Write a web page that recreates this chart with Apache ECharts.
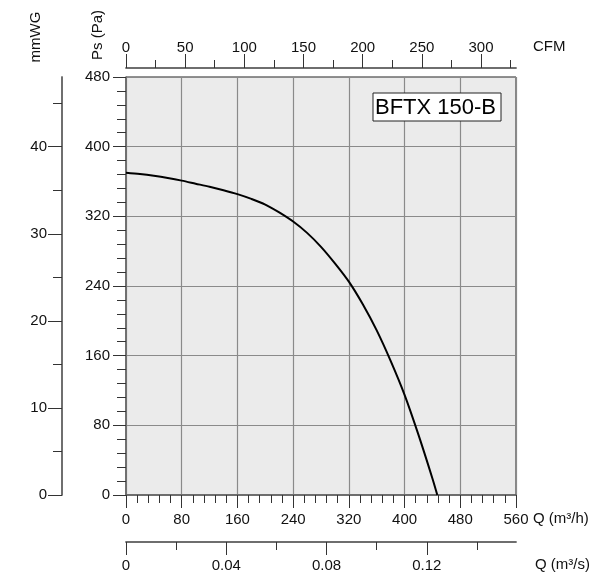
<!DOCTYPE html>
<html>
<head>
<meta charset="utf-8">
<script src="https://cdn.jsdelivr.net/npm/echarts@6/dist/echarts.min.js"></script>
<style>html,body{margin:0;padding:0;background:#fff;}#c{width:601px;height:574px;}</style>
</head>
<body>
<div id="c"></div>
<script>
// ---- data ----
const flowM3h    = [0, 20, 40, 60, 80, 100, 120, 140, 160, 180, 200, 220, 240, 260, 280, 300, 320, 340, 360, 380, 400, 420, 440, 447];
const pressurePa = [370, 368.5, 366.5, 364, 361, 357.5, 354, 350, 345.5, 340, 333.5, 324.5, 314, 301, 285, 266, 245, 219, 189, 154, 115, 69, 19, 0];

const qMax = 560;              // m3/h
const psMax = 480;             // Pa
const cfmMax = qMax / 1.699;   // CFM
const m3sMax = qMax / 3600;    // m3/s
const mmwgMax = psMax / 10;    // mmWG

const cfmMajor = [0, 50, 100, 150, 200, 250, 300];
const cfmMinor = [25, 75, 125, 175, 225, 275, 325];
const m3sMajor = [0, 0.04, 0.08, 0.12];
const m3sMinor = [0.02, 0.06, 0.10, 0.14];
const mmwgMajor = [0, 10, 20, 30, 40];
const mmwgMinor = [5, 15, 25, 35, 45];

const modelName = 'BFTX 150-B';

// ---- styles ----
const FONT = "'Liberation Sans', Arial, sans-serif";
const AX = '#666';
const TK = '#333';
const lbl = (m, extra) => Object.assign({ color: '#111', fontSize: 15, fontFamily: FONT, margin: m }, extra || {});
const fmt = v => String(Math.round(v * 100) / 100);

function extraAxis(base) {
  return Object.assign({
    type: 'value', splitLine: { show: false }, minorTick: { show: false },
    axisLine: { show: true, onZero: false, lineStyle: { color: AX, width: 1.5 } }
  }, base);
}

const chart = echarts.init(document.getElementById('c'), null, { renderer: 'canvas' });
chart.setOption({
  animation: false,
  grid: { left: 126, top: 77, right: 85, bottom: 79, show: true, backgroundColor: '#ebebeb', borderColor: '#222', borderWidth: 1 },
  xAxis: [
    { // Q m3/h
      type: 'value', min: 0, max: qMax, interval: 80, position: 'bottom',
      axisLine: { onZero: false, lineStyle: { color: AX, width: 1.5 } },
      axisTick: { show: true, length: 13, lineStyle: { color: TK } },
      minorTick: { show: true, splitNumber: 5, length: 8, lineStyle: { color: TK } },
      splitLine: { show: true, lineStyle: { color: '#8a8a8a', width: 1.2 } },
      axisLabel: lbl(17)
    },
    extraAxis({ // CFM major
      min: 0, max: cfmMax, position: 'top', offset: 9,
      axisTick: { show: true, length: 14, customValues: cfmMajor, lineStyle: { color: TK } },
      axisLabel: lbl(13, { customValues: cfmMajor })
    }),
    extraAxis({ // CFM minor
      min: 0, max: cfmMax, position: 'top', offset: 9,
      axisTick: { show: true, length: 8, customValues: cfmMinor, lineStyle: { color: TK } },
      axisLabel: { show: false }
    }),
    extraAxis({ // m3/s major
      min: 0, max: m3sMax, position: 'bottom', offset: 47,
      axisTick: { show: true, length: 13, customValues: m3sMajor, lineStyle: { color: TK } },
      axisLabel: lbl(16, { customValues: m3sMajor, formatter: fmt })
    }),
    extraAxis({ // m3/s minor
      min: 0, max: m3sMax, position: 'bottom', offset: 47,
      axisTick: { show: true, length: 8, customValues: m3sMinor, lineStyle: { color: TK } },
      axisLabel: { show: false }
    })
  ],
  yAxis: [
    { // Ps Pa
      type: 'value', min: 0, max: psMax, interval: 80, position: 'left',
      axisLine: { show: true, onZero: false, lineStyle: { color: AX, width: 1.5 } },
      axisTick: { show: true, length: 13, lineStyle: { color: TK } },
      minorTick: { show: true, splitNumber: 5, length: 9, lineStyle: { color: TK } },
      splitLine: { show: true, lineStyle: { color: '#8a8a8a', width: 1.2 } },
      axisLabel: lbl(16)
    },
    extraAxis({ // mmWG major
      min: 0, max: mmwgMax, position: 'left', offset: 64,
      axisTick: { show: true, length: 14, customValues: mmwgMajor, lineStyle: { color: TK } },
      axisLabel: lbl(15, { customValues: mmwgMajor })
    }),
    extraAxis({ // mmWG minor
      min: 0, max: mmwgMax, position: 'left', offset: 64,
      axisTick: { show: true, length: 9, customValues: mmwgMinor, lineStyle: { color: TK } },
      axisLabel: { show: false }
    })
  ],
  series: [{
    type: 'line', xAxisIndex: 0, yAxisIndex: 0, smooth: 0.3, showSymbol: false,
    lineStyle: { color: '#000', width: 2 },
    data: flowM3h.map((q, i) => [q, pressurePa[i]])
  }],
  graphic: [
    { type: 'text', x: 36, y: 37, rotation: Math.PI / 2, style: { text: 'mmWG', fill: '#111', font: '15px ' + FONT, textAlign: 'center', textVerticalAlign: 'middle' } },
    { type: 'text', x: 98, y: 35, rotation: Math.PI / 2, style: { text: 'Ps (Pa)', fill: '#111', font: '15px ' + FONT, textAlign: 'center', textVerticalAlign: 'middle' } },
    { type: 'text', x: 533, y: 47, style: { text: 'CFM', fill: '#111', font: '15px ' + FONT, textAlign: 'left', textVerticalAlign: 'middle' } },
    { type: 'text', x: 533, y: 519, style: { text: 'Q (m³/h)', fill: '#111', font: '15px ' + FONT, textAlign: 'left', textVerticalAlign: 'middle' } },
    { type: 'text', x: 535, y: 565, style: { text: 'Q (m³/s)', fill: '#111', font: '15px ' + FONT, textAlign: 'left', textVerticalAlign: 'middle' } },
    { type: 'rect', shape: { x: 373, y: 93, width: 128, height: 28 }, style: { fill: '#fff', stroke: '#222', lineWidth: 1 }, z: 10 },
    { type: 'text', x: 375, y: 107.5, z: 11, style: { text: modelName, fill: '#000', font: '22px ' + FONT, textAlign: 'left', textVerticalAlign: 'middle' } }
  ]
});
</script>
</body>
</html>
